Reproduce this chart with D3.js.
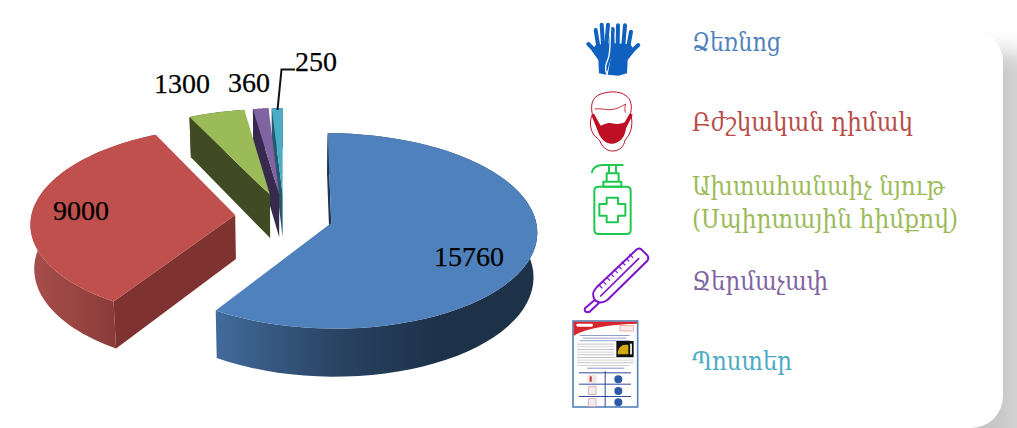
<!DOCTYPE html>
<html><head><meta charset="utf-8">
<script src="https://cdn.jsdelivr.net/npm/d3@7/dist/d3.min.js"></script>
<style>html,body{margin:0;padding:0;background:#fff}svg{display:block}</style></head>
<body><svg id="c" width="1017" height="428"></svg>
<script>
const categories=["Ձեռնոց","Բժշկական դիմակ","Ախտահանաիչ նյութ\n(Սպիրտային հիմքով)","Ջերմաչափ","Պոստեր"];
const values=[15760,9000,1300,360,250];
const topColors=["#4f81bd","#c0504d","#9bbb59","#8064a2","#4bacc6"];
const wallColors=["#1f3552","#7f3331","#414b23","#382a4f","#245a6b"];
const legendColors=["#4f81bd","#b84c49","#9bbb59","#8064a2","#4bacc6"];

const svg=d3.select("#c");
const defs=svg.append("defs");
// card + shadow
const f=defs.append("filter").attr("id","sh").attr("x","-10%").attr("y","-20%").attr("width","120%").attr("height","140%");
f.append("feGaussianBlur").attr("stdDeviation",11);
const sg=defs.append("linearGradient").attr("id","sg").attr("gradientUnits","userSpaceOnUse").attr("x1",1003).attr("x2",1017).attr("y1",0).attr("y2",0);
sg.append("stop").attr("offset",0).attr("stop-color","#c6c6c6");
sg.append("stop").attr("offset",1).attr("stop-color","#d6d6d6");
svg.append("rect").attr("x",-60).attr("y",52).attr("width",1180).attr("height",450).attr("fill","url(#sg)").attr("filter","url(#sh)");
svg.append("rect").attr("x",-60).attr("y",30).attr("width",1063).attr("height",398).attr("rx",32).attr("fill","#fff");

const C={x:284,y:216.5,rx:204,ry:96,k:0.08,explode:0.24,depth:44,shrink:0.985};
const pie=d3.pie().value(d=>d).sort(null);
const arcs=pie(values);
function proj(X,Y,low){const s=1/(1+C.k*Y);const b=low?C.shrink:1;
  return [C.x+X*C.rx*s*b, C.y-Y*C.ry*s+(low?C.depth*s:0)];}
const line=d3.line();
const grads=[["#426a9b","#2b4565","#1d3149"],["#a64e4b","#9a4643","#8a3b39"]];
grads.forEach((g,i)=>{const lg=defs.append("linearGradient").attr("id","g"+i).attr("gradientUnits","userSpaceOnUse");
  const xr=i==0?[218,440]:[31,115];
  lg.attr("x1",xr[0]).attr("x2",xr[1]).attr("y1",0).attr("y2",0);
  g.forEach((c,j)=>lg.append("stop").attr("offset",j/2).attr("stop-color",c));});

const layer=svg.append("g");
d3.range(values.length).reverse().forEach(i=>{
  const a=arcs[i],mid=(a.startAngle+a.endAngle)/2;
  const ex=C.explode*Math.sin(mid),ey=C.explode*Math.cos(mid);
  const pt=(t,r,low)=>proj(ex+r*Math.sin(t),ey+r*Math.cos(t),low);
  const ts=d3.range(0,61).map(j=>a.startAngle+(a.endAngle-a.startAngle)*j/60);
  const g=layer.append("g");
  const up=ts.map(t=>pt(t,1,false)),lo=ts.map(t=>pt(t,1,true)).reverse();
  g.append("path").attr("d",line(up.concat(lo))+"Z").attr("fill",i<2?`url(#g${i})`:wallColors[i]);
  g.append("path").attr("d",line([pt(a.startAngle,0,false),pt(a.startAngle,1,false),pt(a.startAngle,1,true),pt(a.startAngle,0,true)])+"Z").attr("fill",wallColors[i]);
  g.append("path").attr("d",line([pt(0,0,false)].concat(up))+"Z").attr("fill",topColors[i]);
});

// data labels
const labelPos=[[469,256],[81,210],[182,83],[249,82],[316,61]];
svg.append("path").attr("d","M277.5,110L281.5,69.5H295").attr("fill","none").attr("stroke","#111").attr("stroke-width",2);
svg.selectAll("text.v").data(values).join("text").attr("class","v")
 .attr("x",(d,i)=>labelPos[i][0]).attr("y",(d,i)=>labelPos[i][1]).attr("text-anchor","middle").attr("dominant-baseline","central")
 .attr("font-family","Liberation Serif").attr("font-size",28).attr("fill","#000").attr("stroke","#000").attr("stroke-width",0.25).text(d=>d);

// legend text
const legendY=[51,131,195,290,370];
const legendW=[[89],[221],[253,266],[136],[100]];
categories.forEach((c,i)=>{c.split("\n").forEach((t,j)=>svg.append("text").attr("x",692).attr("y",legendY[i]+j*32.5)
  .attr("font-family","DejaVu Serif").attr("font-size",26).attr("fill",legendColors[i])
  .attr("textLength",legendW[i][j]).attr("lengthAdjust","spacingAndGlyphs").text(t));});

// icons, drawn at 3x on their own small grid
function icon(x,y){return svg.append("g").attr("transform",`translate(${x},${y}) scale(${1/3})`);}
const stroked=(g,d,c,w)=>g.append("path").attr("d",d).attr("fill","none").attr("stroke",c).attr("stroke-width",w).attr("stroke-linecap","round").attr("stroke-linejoin","round");

// gloves
{const g=icon(575,10),c="#1060c0";
 [[72,135,40,102],[70,110,62,60],[84,105,80,44],[94,105,99,44],[106,110,113,58],
  [158,135,190,105],[160,110,168,65],[145,105,150,46],[128,105,129,46],[113,110,112,58]]
 .forEach(p=>stroked(g,`M${p[0]},${p[1]}L${p[2]},${p[3]}`,c,12));
 g.append("path").attr("d","M62,105L112,98L116,110L106,150L94,194L72,190L70,150L50,122Z").attr("fill",c);
 g.append("path").attr("d","M108,100L165,102L180,122L158,150L156,190L130,197L98,194L106,150Z").attr("fill",c);
 stroked(g,"M107,55C104,90 108,130 98,150C92,165 88,175 96,193","#fff",4);
}
// mask
{const g=icon(580,85),c="#be1024";
 stroked(g,"M38,92C30,60 36,38 60,28C85,18 118,18 135,30C155,42 158,65 150,92",c,3);
 stroked(g,"M45,72C60,68 85,78 105,72C118,68 128,62 137,57C134,66 134,76 136,82",c,2.5);
 stroked(g,"M36,92C28,105 30,135 42,150C50,158 55,162 60,168C65,185 80,198 98,198C118,198 132,185 135,165C150,150 160,125 154,95",c,3);
 g.append("path").attr("d","M34,90L42,86L62,122C72,118 84,112 95,115C108,118 122,118 134,112L150,84L158,90L138,130C136,150 125,172 100,176C75,178 60,160 52,135Z").attr("fill",c);
}
// sanitizer
{const g=icon(560,0),c="#20c850";
 stroked(g,"M96,517C100,500 112,495 128,495H188",c,6);
 stroked(g,"M147,497V518M168,497V518M140,520H176V545H140ZM130,545H184V560H130Z",c,6);
 stroked(g,"M116,560H200Q212,560 212,572V690Q212,702 200,702H116Q103,702 103,690V572Q103,560 116,560Z",c,6);
 stroked(g,"M140,593H174V612H196V647H174V667H140V647H118V612H140Z",c,6);
}
// thermometer
{const g=icon(560,230),c="#7a14cc";
 stroked(g,"M228,60Q236,52 244,58L262,76Q268,84 262,92L142,210C125,222 108,218 102,205C96,190 100,182 110,172Z",c,6);
 stroked(g,"M104,210L75,235Q72,245 80,246L88,246L116,220",c,6);
 stroked(g,"M236,86L122,198",c,5);
 d3.range(9).forEach(n=>{const x=218-n*11.5,y=82+n*11.5;stroked(g,`M${x},${y}L${x-(n%2?7:9)},${y-(n%2?7:9)+0}`,c,3.5);});
}
// poster
{const g=icon(565,315);
 g.append("rect").attr("x",24).attr("y",18).attr("width",194).attr("height",258).attr("fill","#fff").attr("stroke","#5b85bd").attr("stroke-width",5);
 g.append("path").attr("d","M26,20H216V26C150,28 70,36 26,62Z").attr("fill","#d8262c");
 g.append("rect").attr("x",34).attr("y",26).attr("width",50).attr("height",9).attr("rx",4).attr("fill","#fff");
 g.append("rect").attr("x",165).attr("y",32).attr("width",40).attr("height",16).attr("fill","#fbe8e8").attr("stroke","#d8262c");
 [[60,44,150,"#7f8fc4"],[68,54,130,"#8f8fbf"],[76,44,150,"#7f9fd8"],[86,36,112,"#bbb"],[94,36,112,"#ccc"],[102,36,112,"#bbb"],[110,36,112,"#ccc"],[118,36,112,"#bbb"],[126,36,170,"#bbb"],[134,36,170,"#ccc"],[142,36,170,"#bbb"],[150,36,160,"#ccc"]]
  .forEach(l=>g.append("rect").attr("x",l[1]).attr("y",l[0]).attr("width",l[2]).attr("height",2.6).attr("fill",l[3]));
 g.append("rect").attr("x",154).attr("y",78).attr("width",52).attr("height",48).attr("fill","#111");
 g.append("path").attr("d","M158,118C158,96 172,86 190,90V118Z").attr("fill","#d4a90f");
 g.append("rect").attr("x",195).attr("y",86).attr("width",6).attr("height",32).attr("fill","#ddd");
 g.append("rect").attr("x",66).attr("y",158).attr("width",112).attr("height",3).attr("fill","#8a8fc8");
 [172,206,243].forEach(y=>g.append("rect").attr("x",42).attr("y",y).attr("width",156).attr("height",3).attr("fill","#2f4a9a"));
 g.append("rect").attr("x",119).attr("y",168).attr("width",3).attr("height",108).attr("fill","#2f4a9a");
 [[160,193],[160,228],[160,262]].forEach(p=>g.append("circle").attr("cx",p[0]).attr("cy",p[1]).attr("r",12).attr("fill","#2d5aa8"));
 [[82,226],[82,262]].forEach(p=>g.append("rect").attr("x",p[0]-11).attr("y",p[1]-11).attr("width",22).attr("height",24).attr("fill","#eee").attr("stroke","#e08a9a").attr("stroke-width",2));
 g.append("rect").attr("x",68).attr("y",180).attr("width",26).attr("height",23).attr("fill","#f2e6e6").attr("stroke","#ddd");
 g.append("rect").attr("x",74).attr("y",184).attr("width",6).attr("height",16).attr("fill","#c03030");
}
</script></body></html>
